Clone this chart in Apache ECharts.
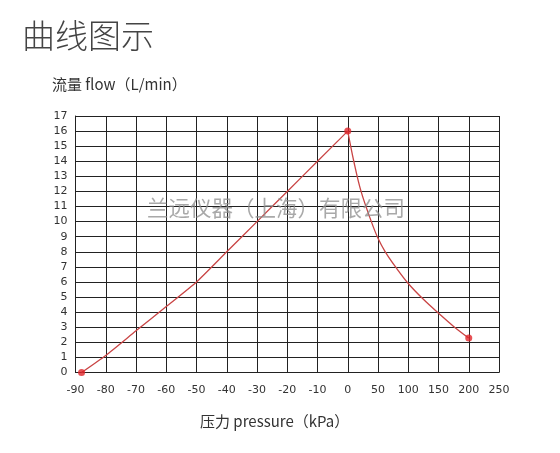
<!DOCTYPE html>
<html><head><meta charset="utf-8">
<script src="https://cdn.jsdelivr.net/npm/echarts@6/dist/echarts.min.js"></script>
<style>html,body{margin:0;padding:0;background:#fff}#c{width:560px;height:453px}</style>
</head><body><div id="c"></div>
<script>
// Tick labels of the (piecewise) pressure axis
const xTickLabels = ['-90','-80','-70','-60','-50','-40','-30','-20','-10','0','50','100','150','200','250'];
const yTickLabels = ['0','1','2','3','4','5','6','7','8','9','10','11','12','13','14','15','16','17'];
// Vacuum side of the curve: pressure (kPa) and flow (L/min)
const pressureVac = [-88, -80, -70, -60, -50, -40, -30, -20, -10, 0];
const flowVac     = [0, 1.13, 2.76, 4.37, 6.0, 8.0, 10.0, 12.0, 14.0, 16.0];
// Pressure side of the curve
const pressurePos = [0, 10, 22, 39, 50, 62, 79, 100, 125, 150, 175, 200];
const flowPos     = [16.0, 14.0, 12.0, 10.0, 8.9, 8.0, 7.0, 5.9, 4.85, 3.93, 3.05, 2.28];
// Marked points
const markPressure = [-88, 0, 200];
const markFlow = [0, 16, 2.28];

// axis position: -90..0 step 10 per cell, 0..250 step 50 per cell
function pos(p){ return p <= 0 ? (p + 90) / 10 : 9 + p / 50; }

const chart = echarts.init(document.getElementById('c'), null, {renderer:'canvas'});
const lineColor = '#222';
const curveColor = '#c94545';
chart.setOption({
  animation:false,
  backgroundColor:'#fff',
  grid:{left:75.5, right:61, top:116, bottom:80.5, containLabel:false},
  graphic:[
    {type:'text', left:22, top:19, style:{text:'曲线图示', font:'300 33px "Noto Sans CJK SC"', fill:'#444'}},
    {type:'text', left:52, top:77, style:{text:'流量 flow（L/min）', font:'15px "Noto Sans CJK SC"', fill:'#333'}},
    {type:'text', left:200, top:414, style:{text:'压力 pressure（kPa）', font:'15px "Noto Sans CJK SC"', fill:'#333'}},
    {type:'text', left:147, top:197, z:100, style:{text:'兰远仪器（上海）有限公司', font:'21.5px "Noto Sans CJK SC"', fill:'rgba(140,140,140,0.75)'}}
  ],
  xAxis:{
    type:'value', min:0, max:14, interval:1,
    axisLine:{show:true, lineStyle:{color:lineColor, width:1}},
    axisTick:{show:false},
    axisLabel:{color:'#333', fontSize:11, margin:12, fontFamily:'DejaVu Sans',
      formatter:(v)=>xTickLabels[Math.round(v)]},
    splitLine:{show:true, lineStyle:{color:lineColor, width:1}}
  },
  yAxis:{
    type:'value', min:0, max:17, interval:1,
    axisLine:{show:true, lineStyle:{color:lineColor, width:1}},
    axisTick:{show:false},
    axisLabel:{color:'#333', fontSize:11, margin:8, fontFamily:'DejaVu Sans',
      formatter:(v)=>yTickLabels[Math.round(v)]},
    splitLine:{show:true, lineStyle:{color:lineColor, width:1}}
  },
  series:[
    {type:'line', data:pressureVac.map((p,i)=>[pos(p), flowVac[i]]), smooth:0.2, showSymbol:false,
     lineStyle:{color:curveColor, width:1.3}, z:3},
    {type:'line', data:pressurePos.map((p,i)=>[pos(p), flowPos[i]]), smooth:0.35, showSymbol:false,
     lineStyle:{color:curveColor, width:1.3}, z:3},
    {type:'scatter', data:markPressure.map((p,i)=>[pos(p), markFlow[i]]), symbolSize:7,
     itemStyle:{color:'#e0252a'}, z:4}
  ]
});
</script></body></html>
